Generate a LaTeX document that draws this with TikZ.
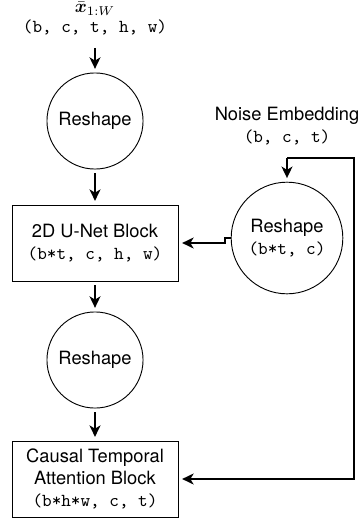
\documentclass[tikz,border=0pt]{standalone}
\usepackage{amsmath,bm}
\usepackage{fontspec}
\setmainfont{TeX Gyre Heros}
\usetikzlibrary{arrows.meta,positioning}
\tikzset{
  rsh/.style={draw, circle, line width=0.5pt, minimum size=52.5pt, inner sep=0pt, align=center},
  blk/.style={draw, rectangle, line width=0.5pt, minimum width=90.7pt, minimum height=41.5pt, inner sep=0pt, align=center},
  arr/.style={-{Stealth[length=6.3pt, width=6pt, inset=1.8pt]}, line width=0.9pt, shorten >=2pt},
  gap/.style={shorten <=2pt},
  lbl/.style={align=center, inner sep=0pt}
}

\begin{document}
\begin{tikzpicture}[x=0.5464pt, y=-0.5464pt]
  \useasboundingbox (0,0) rectangle (362,518);
  % main column
  \node[lbl] (xin) at (95,9) {$\bm{\bar{x}}_{1:W}$};
  \node[lbl] (xdim) at (95,27) {\ttfamily (b, c, t, h, w)};
  \node[rsh] (re1) at (95,121) {Reshape};
  \node[blk] (unet) at (95,243) {2D U-Net Block\\\ttfamily (b*t, c, h, w)};
  \node[rsh] (re2) at (95,360) {Reshape};
  \node[blk] (causal) at (95,479) {Causal Temporal\\Attention Block\\\ttfamily (b*h*w, c, t)};
  % noise branch
  \node[lbl] (noise) at (287,126) {Noise Embedding\\\ttfamily (b, c, t)};
  \node[rsh, minimum size=61pt] (nz) at (287,238) {Reshape\\\ttfamily (b*t, c)};
  \coordinate (br) at (287,158);
  \coordinate (rx) at (354,300);
  \draw[arr, shorten <=7pt] (xdim) -- (re1);
  \draw[arr, gap] (re1) -- (unet);
  \draw[arr, gap] (unet) -- (re2);
  \draw[arr, gap] (re2) -- (causal);
  \draw[arr] (br) -- (nz);
  \draw[arr] (nz.west) -- ++(-6,0) |- (unet.east);
  \draw[arr] (br) -| (rx) |- (causal.east);
\end{tikzpicture}
\end{document}
